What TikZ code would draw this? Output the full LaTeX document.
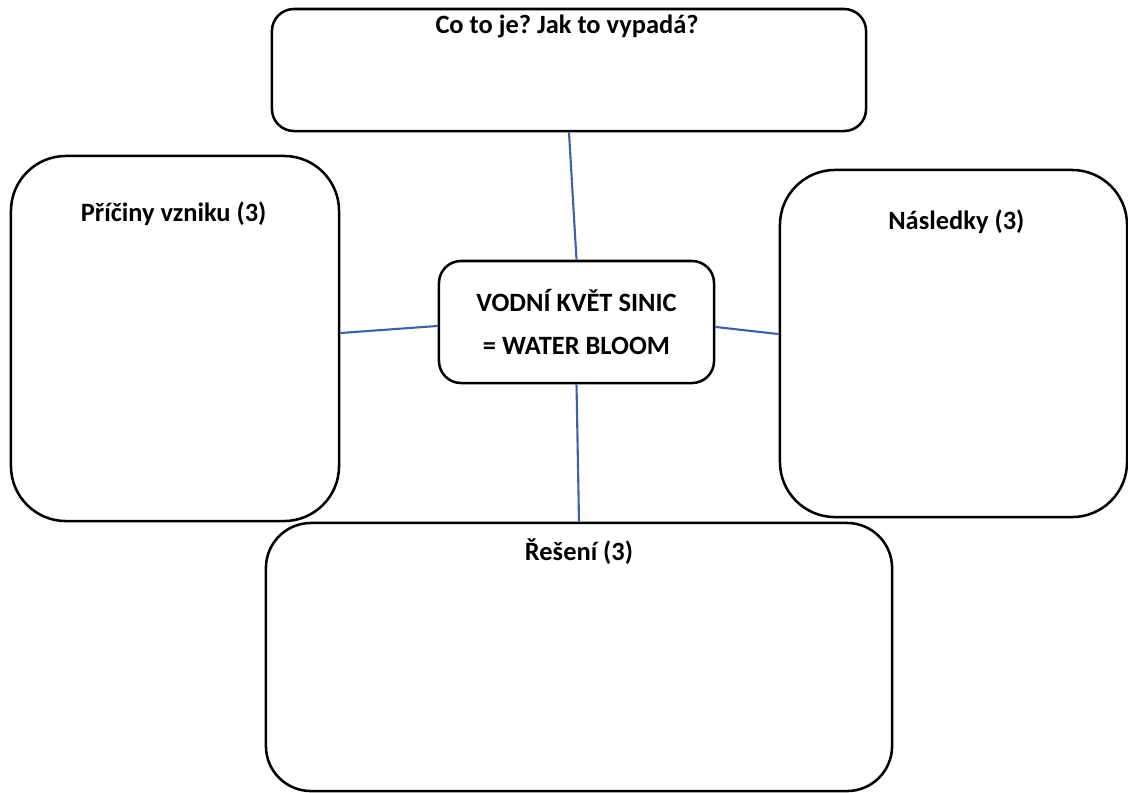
\documentclass[tikz,border=0pt]{standalone}
\usepackage{fontspec}
\setmainfont{Carlito}
\frenchspacing
\definecolor{linkblue}{HTML}{3A62AA}
\begin{document}
\begin{tikzpicture}[x=0.025cm,y=-0.025cm,
    box/.style={draw,line width=1.8pt,rounded corners=#1},
    tag/.style={font=\fontsize{18.8}{22}\selectfont\bfseries,inner sep=0pt,anchor=base},
    link/.style={draw=linkblue,line width=1.5pt}]
    \useasboundingbox (0,0) rectangle (1128,792);
    \node[box=0.55cm,minimum width=14.85cm,minimum height=3.05cm,
      label={[tag,xshift=-1.4pt,yshift=-18.4pt]north:Co to je? Jak to vypadá?}] (what) at (569,70) {};
    \node[box=1.375cm,minimum width=8.2cm,minimum height=9.125cm,
      label={[tag,xshift=-1pt,yshift=-47.5pt]north:Příčiny vzniku (3)}] (causes) at (175,338.5) {};
    \node[box=1.375cm,minimum width=8.675cm,minimum height=8.675cm,
      label={[tag,xshift=2pt,yshift=-43pt]north:Následky (3)}] (effects) at (953.5,343.5) {};
    \node[box=1.125cm,minimum width=15.65cm,minimum height=6.7cm,
      label={[tag,yshift=-27.5pt]north:Řešení (3)}] (solutions) at (579,657) {};
    \node[box=0.55cm,minimum width=6.875cm,minimum height=3.05cm,align=center,
      font=\fontsize{18.8}{30.5}\selectfont\bfseries] (bloom) at (576.5,322) {VODNÍ KVĚT SINIC\\= WATER BLOOM};
    \draw[link] (what.south) -- (bloom.north);
    \draw[link] ([yshift=3.9pt]causes.east) -- ([yshift=-2.8pt]bloom.west);
    \draw[link] ([yshift=-3.5pt]bloom.east) -- ([yshift=6.7pt]effects.west);
    \draw[link] (bloom.south) -- (solutions.north);
  \end{tikzpicture}
\end{document}
